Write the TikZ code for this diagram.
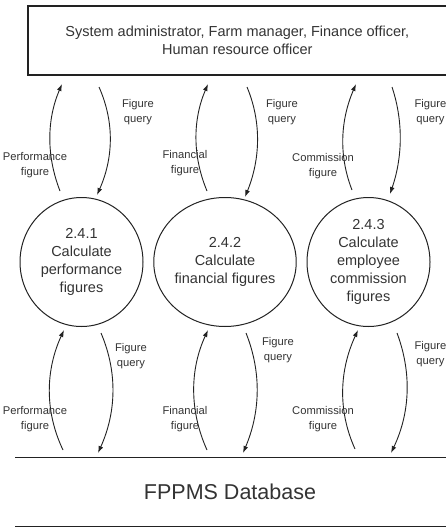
\documentclass[tikz,border=0pt]{standalone}
\usepackage{fontspec}
\setmainfont{Liberation Sans}
\usetikzlibrary{arrows.meta,shapes.geometric}
\definecolor{ink}{HTML}{222222}
\definecolor{txt}{HTML}{333333}
\begin{document}
\begin{tikzpicture}[x=1pt,y=-1pt,
  proc/.style={draw=ink,line width=1pt,ellipse,minimum width=123pt,minimum height=129pt,inner sep=0pt,align=center,text=txt,font=\fontsize{14.5}{18}\selectfont},
  flow/.style={draw=ink,line width=0.9pt,-{Latex[length=7pt,width=4.8pt]}},
  lbl/.style={text=txt,align=center,inner sep=0pt,font=\fontsize{11.2}{15}\selectfont}]
\useasboundingbox (0,0) rectangle (446,527);
\clip (0,0) rectangle (446,527);
% external entity
\node[draw=ink,line width=1.1pt,minimum width=418.5pt,minimum height=69pt,inner sep=0pt,align=center,text=txt,font=\fontsize{14.5}{18}\selectfont] (ent) at (237.25,40.5) {System administrator, Farm manager, Finance officer,\\Human resource officer};
% processes
\node[proc] (c1) at (81.5,262) {2.4.1\\Calculate\\performance\\figures};
\node[proc] (c2) at (225,262) {2.4.2\\Calculate\\financial figures};
\node[proc] (c3) at (368.5,262) {2.4.3\\Calculate\\employee\\commission\\figures};
% data store
\coordinate (dbl) at (15,457);
\coordinate (dbr) at (446,457);
\coordinate (dbl2) at (15,526);
\coordinate (dbr2) at (446,526);
\draw[ink,line width=1pt] (dbl) -- (dbr);
\draw[ink,line width=1pt] (dbl2) -- (dbr2);
\node[text=txt,font=\fontsize{21.5}{24}\selectfont,inner sep=0pt] (db) at (230,492) {FPPMS Database};
% endpoints top
\coordinate (t1s) at (60,191); \coordinate (t1e) at (62,84);
\coordinate (q1s) at (99,87);  \coordinate (q1e) at (97,195);
\coordinate (t2s) at (207,191); \coordinate (t2e) at (208,84);
\coordinate (q2s) at (247,87);  \coordinate (q2e) at (245,197);
\coordinate (t3s) at (352,190); \coordinate (t3e) at (356,84);
\coordinate (q3s) at (392,87);  \coordinate (q3e) at (390,194);
% endpoints bottom
\coordinate (b1s) at (63,450); \coordinate (b1e) at (64,330);
\coordinate (r1s) at (101,333); \coordinate (r1e) at (98,453);
\coordinate (b2s) at (207,450); \coordinate (b2e) at (208,330);
\coordinate (r2s) at (246,333); \coordinate (r2e) at (243,453);
\coordinate (b3s) at (355,449); \coordinate (b3e) at (358,330);
\coordinate (r3s) at (397,333); \coordinate (r3e) at (391,453);
% top flows
\draw[flow] (t1s) .. controls (46,155) and (47,119) .. (t1e);
\draw[flow] (q1s) .. controls (115,123) and (113,159) .. (q1e);
\draw[flow] (t2s) .. controls (192,155) and (193,119) .. (t2e);
\draw[flow] (q2s) .. controls (262,123) and (260,160) .. (q2e);
\draw[flow] (t3s) .. controls (338,154) and (341,119) .. (t3e);
\draw[flow] (q3s) .. controls (404,123) and (402,159) .. (q3e);
% bottom flows
\draw[flow] (b1s) .. controls (44,410) and (46,369) .. (b1e);
\draw[flow] (r1s) .. controls (118,373) and (116,413) .. (r1e);
\draw[flow] (b2s) .. controls (189,410) and (190,369) .. (b2e);
\draw[flow] (r2s) .. controls (262,373) and (260,413) .. (r2e);
\draw[flow] (b3s) .. controls (337,409) and (340,369) .. (b3e);
\draw[flow] (r3s) .. controls (412,373) and (410,413) .. (r3e);
% labels top
\node[lbl] (lq1) at (138,112) {Figure\\query};
\node[lbl] (lq2) at (282,112) {Figure\\query};
\node[lbl] (lq3) at (430.5,112) {Figure\\query};
\node[lbl] (lp1) at (35,165) {Performance\\figure};
\node[lbl] (lf1) at (185,163) {Financial\\figure};
\node[lbl] (lc1) at (323,166) {Commission\\figure};
% labels bottom
\node[lbl] (lq4) at (131,356) {Figure\\query};
\node[lbl] (lq5) at (278,350) {Figure\\query};
\node[lbl] (lq6) at (430.5,354) {Figure\\query};
\node[lbl] (lp2) at (35,419) {Performance\\figure};
\node[lbl] (lf2) at (185,419) {Financial\\figure};
\node[lbl] (lc2) at (323,419) {Commission\\figure};
\end{tikzpicture}
\end{document}
